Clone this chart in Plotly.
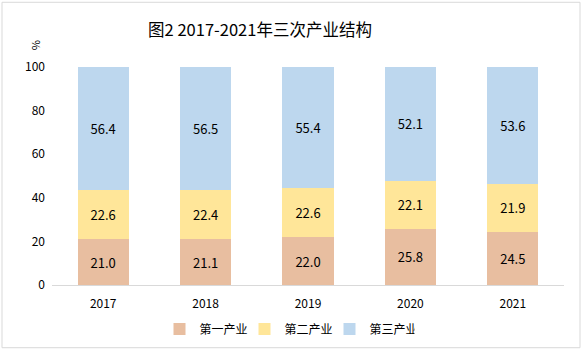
import plotly.graph_objects as go

years = ["2017", "2018", "2019", "2020", "2021"]
primary = [21.0, 21.1, 22.0, 25.8, 24.5]
secondary = [22.6, 22.4, 22.6, 22.1, 21.9]
tertiary = [56.4, 56.5, 55.4, 52.1, 53.6]
names = ["第一产业", "第二产业", "第三产业"]
colors = ["#E8BEA0", "#FFE699", "#BDD7EE"]

font_cjk = "Noto Sans CJK SC, DejaVu Sans, sans-serif"

fig = go.Figure()
for name, vals, col in zip(names, [primary, secondary, tertiary], colors):
    fig.add_trace(go.Bar(
        x=years, y=vals, name=name, marker=dict(color=col, line=dict(width=0)),
        text=[f"{v:.1f}" for v in vals], textposition="inside", insidetextanchor="middle",
        textfont=dict(size=13, color="#000000"), constraintext="none",
    ))

W, H = 583, 354
L, R, T, B = 52, 19, 67, 68
pw, ph = W - L - R, H - T - B

def px(x):
    return (x - L) / pw

def py(y):
    return (H - B - y) / ph

fig.update_layout(
    width=W, height=H, barmode="stack", bargap=0.5,
    margin=dict(l=L, r=R, t=T, b=B),
    plot_bgcolor="white", paper_bgcolor="white",
    font=dict(family=font_cjk, size=12, color="#000000"),
    title=dict(text="图2 2017-2021年三次产业结构", x=260 / W, xanchor="center",
               y=1 - 30 / H, yanchor="middle", font=dict(size=16.5, family=font_cjk, color="#000")),
    showlegend=True,
    legend=dict(orientation="h", x=px(287), xanchor="center", y=py(329), yanchor="middle",
                font=dict(size=12, family=font_cjk), itemwidth=30, traceorder="normal",
                entrywidth=40),
    xaxis=dict(showline=True, linecolor="#D9D9D9", linewidth=1, ticks="", showgrid=False,
               tickfont=dict(size=12, color="#000"), ticklabelstandoff=8),
    yaxis=dict(range=[0, 100], dtick=20, showgrid=False, showline=False, zeroline=False,
               ticks="", tickfont=dict(size=12, color="#000"), ticklabelstandoff=6),
    shapes=[dict(type="rect", xref="paper", yref="paper", x0=px(2), x1=px(580), y0=py(349), y1=py(2),
                 line=dict(color="#D9D9D9", width=1), fillcolor="rgba(0,0,0,0)", layer="below")],
    annotations=[dict(text="%", xref="paper", yref="paper", x=px(37), y=py(45), showarrow=False,
                      xanchor="center", yanchor="middle",
                      textangle=90, font=dict(size=11, color="#000"))],
)

fig.write_html("out.html")
